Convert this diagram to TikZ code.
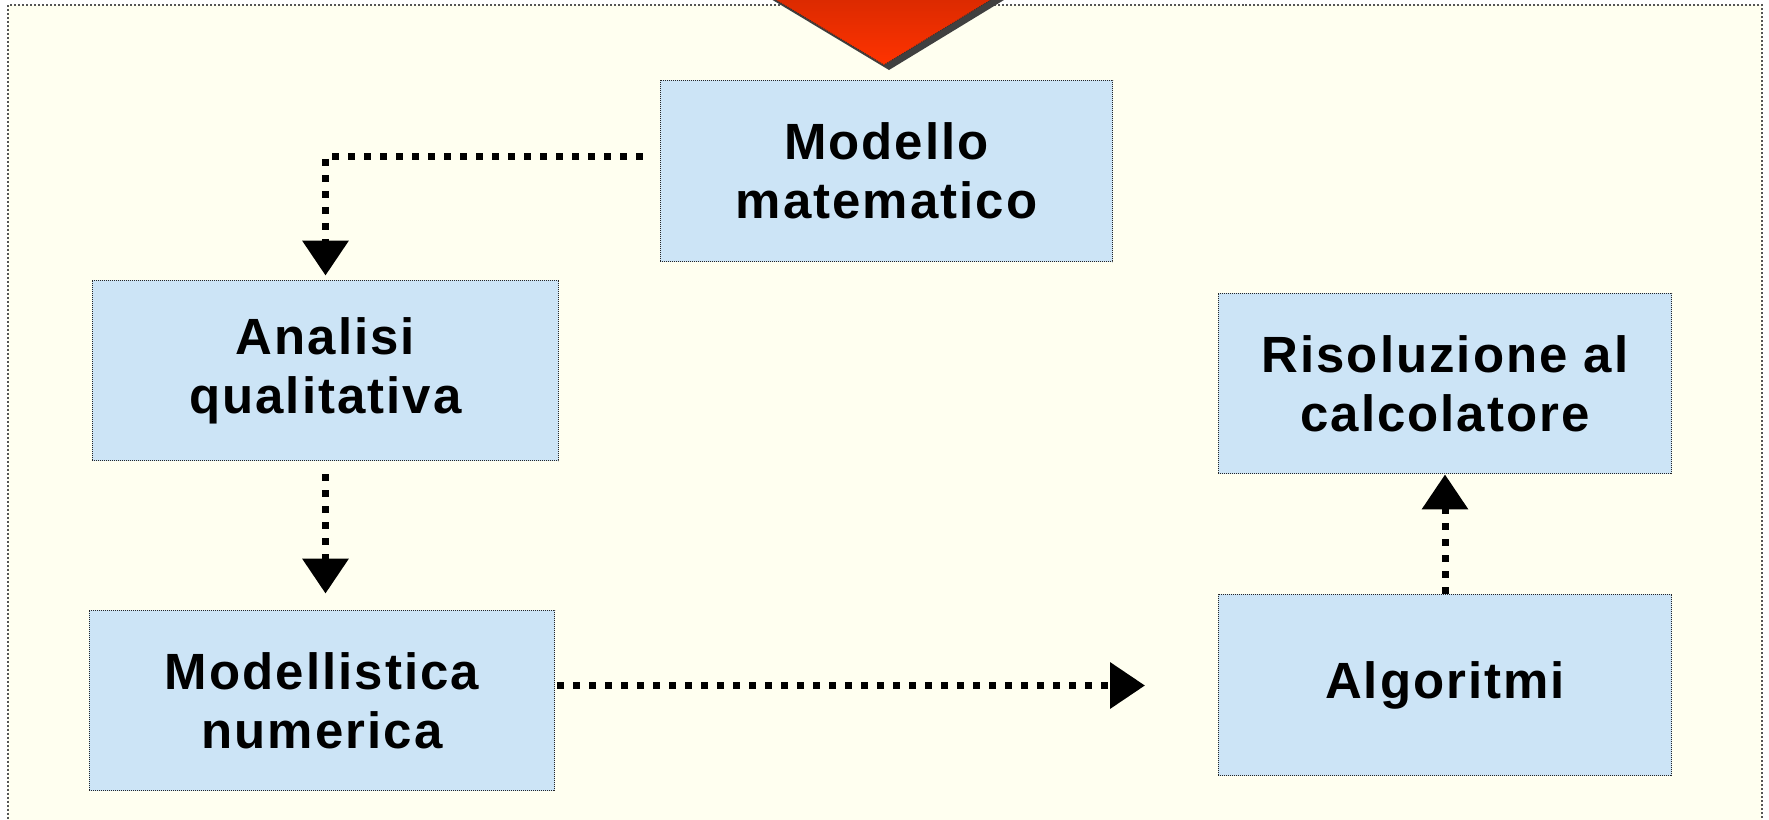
\documentclass[tikz,border=0pt]{standalone}
\usepackage{fontspec}
\setmainfont{Liberation Sans}[LetterSpace=4]
\usetikzlibrary{arrows.meta,calc}
\definecolor{ivory}{HTML}{FFFFF0}
\definecolor{boxblue}{HTML}{CCE4F6}
\definecolor{framegray}{HTML}{555555}
\definecolor{redtop}{HTML}{CC2600}
\definecolor{redbot}{HTML}{FF3300}
\definecolor{shadowgray}{HTML}{404040}
\tikzset{
  stepbox/.style={draw=black!85, line width=0.02cm, dash pattern=on 0.02cm off 0.02cm,
    fill=boxblue, align=center, inner sep=0pt,
    font=\fontsize{29}{33.5}\selectfont\bfseries},
  conn/.style={line width=0.14cm, dash pattern=on 0.14cm off 0.18cm,
    -{Triangle[length=0.7cm,width=0.9cm]}},
}
\begin{document}
\begin{tikzpicture}[x=0.02cm,y=-0.02cm]
\useasboundingbox (0,0) rectangle (1769,819);
\clip (0,0) rectangle (1769,819);
\fill[white] (0,0) rectangle (1769,819);
\fill[ivory] (8,5) rectangle (1762,840);
\draw[framegray, line width=0.04cm, dash pattern=on 0.04cm off 0.04cm] (8,5) rectangle (1762,840);
% top arrow (triangle) with shadow
\fill[shadowgray] (726+5,-30+5) -- (884+5,65+5) -- (1040+5,-30+5) -- cycle;
\shade[top color=redtop, bottom color=redbot] (726,-30) -- (884,65) -- (1040,-30) -- cycle;
\draw[black!80, line width=0.02cm, dash pattern=on 0.02cm off 0.02cm] (726,-30) -- (884,65) -- (1040,-30);
% boxes
\node[stepbox, minimum width=9.06cm, minimum height=3.64cm] (mm) at (886.5,171) {Modello\\matematico};
\node[stepbox, minimum width=9.34cm, minimum height=3.62cm] (aq) at (325.5,370.5) {Analisi\\qualitativa};
\node[stepbox, minimum width=9.32cm, minimum height=3.62cm] (mn) at (322,700.5) {Modellistica\\numerica};
\node[stepbox, minimum width=9.08cm, minimum height=3.62cm] (rc) at (1445,383.5) {Risoluzione al\\calcolatore};
\node[stepbox, minimum width=9.08cm, minimum height=3.64cm] (al) at (1445,685) {Algoritmi};
% connectors
\coordinate (s1) at ($(mm.west)+(-17,-15)$);
\coordinate (e1) at ($(aq.north)+(0,-4)$);
\draw[conn] (s1) -| (e1);
\coordinate (s2) at ($(aq.south)+(0,13)$);
\coordinate (e2) at ($(aq.south |- mn.north)+(0,-16)$);
\draw[conn] (s2) -- (e2);
\coordinate (s3) at ($(mn.east)+(2,-15)$);
\coordinate (e3) at (1145,685.5);
\draw[conn] (s3) -- (e3);
\draw[conn] (al.north) -- (rc.south);
\end{tikzpicture}
\end{document}
